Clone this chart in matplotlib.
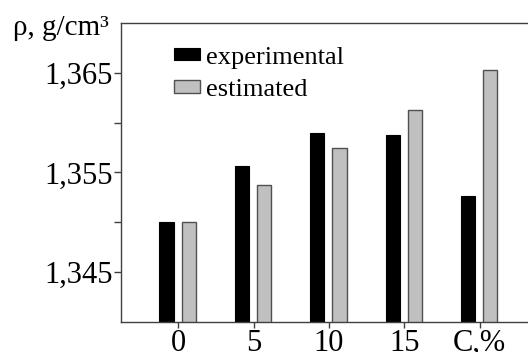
import numpy as np
import matplotlib
matplotlib.use("Agg")
import matplotlib.pyplot as plt
from matplotlib.ticker import FixedLocator

plt.rcParams['font.family'] = ['Liberation Serif', 'DejaVu Serif']

# Data
categories = ["0", "5", "10", "15", "C,%"]
experimental = [1.3500, 1.3556, 1.3590, 1.3588, 1.3526]
estimated = [1.3500, 1.3537, 1.3575, 1.3613, 1.3653]
ytick_values = [1.345, 1.355, 1.365]
ytick_labels = ["1,345", "1,355", "1,365"]

x = np.arange(len(categories))
width = 0.19

fig = plt.figure(figsize=(5.28, 3.52), dpi=100)
ax = fig.add_axes([0.229, 0.085, 0.771, 0.85])

ax.bar(x - 0.155, experimental, width, color="black", edgecolor="black",
       linewidth=0.8, label="experimental")
ax.bar(x + 0.14, estimated, width, color="#c0c0c0", edgecolor="#505050",
       linewidth=1.0, label="estimated")

ax.set_xlim(-0.76, 4.64)
ax.set_ylim(1.340, 1.370)

ax.yaxis.set_major_locator(FixedLocator(ytick_values))
ax.set_yticklabels(ytick_labels)
ax.yaxis.set_minor_locator(FixedLocator([1.350, 1.360]))
ax.set_xticks(x)
ax.set_xticklabels(categories)

ax.tick_params(axis="both", which="both", direction="out", color="#404040",
               width=1.0, labelsize=22, pad=1)
ax.tick_params(axis="y", which="both", length=5)
ax.tick_params(axis="x", length=4, pad=1)

for s in ["left", "bottom", "top"]:
    ax.spines[s].set_color("#404040")
    ax.spines[s].set_linewidth(1.0)
ax.spines["right"].set_visible(False)

ax.text(-0.029, 0.96, "ρ, g/cm³", transform=ax.transAxes, fontsize=21,
        ha="right", va="baseline")

ax.legend(loc="upper left", bbox_to_anchor=(0.098, 0.965), frameon=False,
          fontsize=19, handlelength=1.0, handleheight=0.35,
          handletextpad=0.2, labelspacing=0.39, borderpad=0)

fig.savefig("out.png", dpi=100)
